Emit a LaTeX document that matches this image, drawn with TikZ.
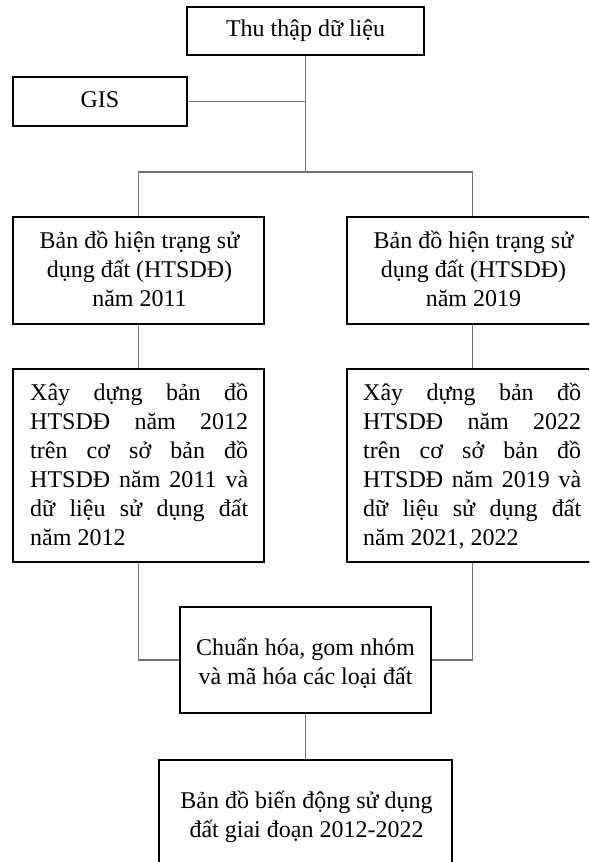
\documentclass[tikz,border=0pt]{standalone}
\usepackage{fontspec}
\setmainfont{Liberation Serif}
\begin{document}
\begin{tikzpicture}[x=1pt,y=-1pt,
  box/.style={draw=black, line width=1.6pt, rectangle, inner sep=0pt},
  txt/.style={inner sep=0pt, font=\fontsize{24}{29}\selectfont},
  conn/.style={draw=black!55, line width=1.1pt}]
\useasboundingbox (0,0) rectangle (589,862);
\clip (0,0) rectangle (589,862);
% boxes
\node[box, minimum width=237pt, minimum height=48pt] (top) at (305.5,31) {};
\node[box, minimum width=174pt, minimum height=49pt] (gis) at (100,101.5) {};
\node[box, minimum width=251pt, minimum height=107pt] (m11) at (138.5,270.5) {};
\node[box, minimum width=251pt, minimum height=107pt] (m19) at (472.5,270.5) {};
\node[box, minimum width=251pt, minimum height=193pt] (b12) at (138.5,465.5) {};
\node[box, minimum width=251pt, minimum height=193pt] (b22) at (472.5,465.5) {};
\node[box, minimum width=251pt, minimum height=106pt] (std) at (305.5,660) {};
\node[box, minimum width=293pt, minimum height=106pt] (res) at (305.5,813) {};
% texts
\node[txt, anchor=base] (topt) at (305.5,36) {Thu thập dữ liệu};
\node[txt, anchor=base] (gist) at (100,107) {GIS};
\node[txt, anchor=base] (m11t) at (139.5,248) {\begin{tabular}[t]{@{}c@{}}Bản đồ hiện trạng sử\\ dụng đất (HTSDĐ)\\ năm 2011\end{tabular}};
\node[txt, anchor=base] (m19t) at (473.5,248) {\begin{tabular}[t]{@{}c@{}}Bản đồ hiện trạng sử\\ dụng đất (HTSDĐ)\\ năm 2019\end{tabular}};
\node[txt, anchor=base west] (b12t) at (30,400) {\parbox[t]{218pt}{%
  \makebox[218pt][s]{Xây dựng bản đồ}\\
  \makebox[218pt][s]{HTSDĐ năm 2012}\\
  \makebox[218pt][s]{trên cơ sở bản đồ}\\
  \makebox[218pt][s]{HTSDĐ năm 2011 và}\\
  \makebox[218pt][s]{dữ liệu sử dụng đất}\\
  năm 2012}};
\node[txt, anchor=base west] (b22t) at (363,400) {\parbox[t]{218pt}{%
  \makebox[218pt][s]{Xây dựng bản đồ}\\
  \makebox[218pt][s]{HTSDĐ năm 2022}\\
  \makebox[218pt][s]{trên cơ sở bản đồ}\\
  \makebox[218pt][s]{HTSDĐ năm 2019 và}\\
  \makebox[218pt][s]{dữ liệu sử dụng đất}\\
  năm 2021, 2022}};
\node[txt, anchor=base] (stdt) at (305.5,655) {\begin{tabular}[t]{@{}c@{}}Chuẩn hóa, gom nhóm\\ và mã hóa các loại đất\end{tabular}};
\node[txt, anchor=base] (rest) at (306.5,808) {\begin{tabular}[t]{@{}c@{}}Bản đồ biến động sử dụng\\ đất giai đoạn 2012-2022\end{tabular}};
% connectors
\coordinate (j) at (305.5,172);
\draw[conn] (top.south) -- (j);
\draw[conn] (gis.east) -- (gis.east -| top.south);
\draw[conn] (m11.north) |- (j) -| (m19.north);
\draw[conn] (m11.south) -- (b12.north);
\draw[conn] (m19.south) -- (b22.north);
\draw[conn] (b12.south) |- (std.west);
\draw[conn] (b22.south) |- (std.east);
\draw[conn] (std.south) -- (res.north);
\end{tikzpicture}
\end{document}
